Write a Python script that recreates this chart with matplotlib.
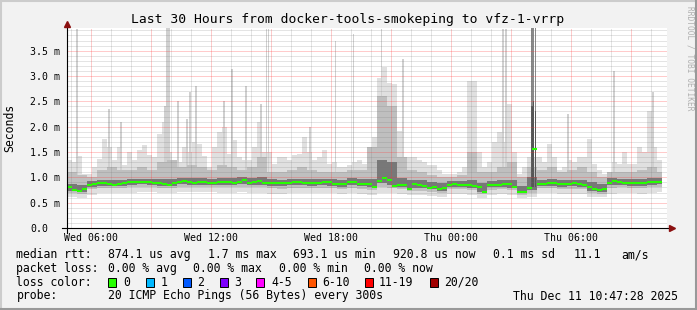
import numpy as np
import matplotlib
matplotlib.use('Agg')
import matplotlib.pyplot as plt
from matplotlib.patches import Rectangle
from matplotlib.lines import Line2D

W, H = 697, 310
MONO = 'DejaVu Sans Mono'

# ---- time axis: hours since Wed 00:00 (window Wed 04:48 -> Thu 10:48) ----
t_start, t_end = 4.8, 34.8
step_h = 0.25  # 15-minute columns

# median RTT (ms), one value per 15-minute column
median_ms = [0.81, 0.75, 0.74, 0.76, 0.84, 0.86, 0.88, 0.88, 0.87, 0.85,
             0.87, 0.88, 0.90, 0.91, 0.91, 0.90, 0.90, 0.89, 0.88, 0.87,
             0.85, 0.88, 0.90, 0.92, 0.91, 0.88, 0.90, 0.90, 0.89, 0.89,
             0.90, 0.91, 0.90, 0.89, 0.90, 0.94, 0.89, 0.91, 0.92, 0.89,
             0.89, 0.88, 0.88, 0.88, 0.88, 0.90, 0.90, 0.88, 0.88, 0.89,
             0.89, 0.90, 0.90, 0.87, 0.87, 0.86, 0.90, 0.91, 0.87, 0.86,
             0.86, 0.81, 0.93, 0.98, 0.94, 0.82, 0.85, 0.84, 0.77, 0.86,
             0.84, 0.82, 0.79, 0.80, 0.76, 0.78, 0.85, 0.86, 0.85, 0.85,
             0.84, 0.83, 0.80, 0.72, 0.84, 0.85, 0.84, 0.86, 0.86, 0.80,
             0.72, 0.72, 0.78, 1.55, 0.86, 0.86, 0.88, 0.89, 0.86, 0.86,
             0.86, 0.88, 0.87, 0.85, 0.80, 0.76, 0.75, 0.77, 0.88, 0.92,
             0.90, 0.89, 0.88, 0.88, 0.88, 0.89, 0.90, 0.91, 0.91]

# highest ping per 15-minute column (broad smoke envelope)
max_ms = [1.35, 1.30, 1.43, 1.07, 1.07, 1.20, 1.36, 1.75, 1.60, 1.34,
          1.60, 1.25, 1.50, 1.34, 1.53, 1.63, 1.45, 1.40, 1.85, 2.10,
          1.50, 1.14, 1.30, 1.60, 1.50, 1.70, 1.66, 1.43, 1.20, 1.60,
          1.90, 2.00, 1.47, 1.73, 1.40, 1.35, 1.34, 1.60, 2.10, 1.50,
          1.50, 1.27, 1.40, 1.40, 1.34, 1.45, 1.47, 1.79, 1.50, 1.34,
          1.40, 1.53, 1.27, 1.30, 1.20, 1.20, 1.25, 1.30, 1.34, 1.27,
          1.35, 1.80, 2.97, 3.17, 2.87, 2.84, 1.92, 1.40, 1.40, 1.40,
          1.35, 1.30, 1.25, 1.25, 1.15, 1.07, 1.07, 1.07, 1.10, 1.20,
          2.90, 2.90, 1.50, 1.20, 1.30, 1.70, 1.90, 1.70, 2.45, 1.50,
          1.07, 1.20, 1.40, 1.40, 1.40, 1.30, 1.66, 1.40, 1.15, 1.20,
          1.35, 1.30, 1.40, 1.40, 1.76, 1.27, 1.15, 1.07, 1.10, 1.30,
          1.27, 1.50, 1.27, 1.27, 1.60, 1.50, 2.30, 1.60, 1.35]

# smoke band edges per 30-minute block (ms)
min_ms = [0.62, 0.60, 0.66, 0.70, 0.70, 0.70, 0.70, 0.72, 0.72, 0.70,
          0.70, 0.72, 0.72, 0.72, 0.72, 0.70, 0.70, 0.72, 0.70, 0.70,
          0.68, 0.68, 0.70, 0.70, 0.70, 0.70, 0.70, 0.68, 0.70, 0.68,
          0.66, 0.70, 0.70, 0.68, 0.66, 0.66, 0.64, 0.62, 0.68, 0.68,
          0.66, 0.60, 0.66, 0.68, 0.66, 0.60, 0.62, 0.70, 0.70, 0.68,
          0.68, 0.68, 0.62, 0.62, 0.68, 0.70, 0.70, 0.68, 0.70, 0.72]
lo_ms = [0.70, 0.68, 0.76, 0.78, 0.78, 0.78, 0.80, 0.80, 0.80, 0.78,
         0.78, 0.80, 0.80, 0.80, 0.80, 0.80, 0.80, 0.80, 0.80, 0.80,
         0.78, 0.77, 0.78, 0.78, 0.78, 0.78, 0.78, 0.76, 0.78, 0.77,
         0.75, 0.80, 0.78, 0.76, 0.74, 0.74, 0.72, 0.70, 0.76, 0.76,
         0.75, 0.68, 0.75, 0.76, 0.75, 0.66, 0.70, 0.78, 0.78, 0.76,
         0.77, 0.76, 0.70, 0.68, 0.78, 0.80, 0.78, 0.78, 0.80, 0.80]
dlo_ms = [0.74, 0.72, 0.80, 0.83, 0.82, 0.83, 0.85, 0.86, 0.85, 0.83,
          0.82, 0.86, 0.85, 0.85, 0.85, 0.85, 0.85, 0.86, 0.85, 0.85,
          0.83, 0.83, 0.84, 0.84, 0.83, 0.85, 0.83, 0.81, 0.85, 0.82,
          0.80, 0.88, 0.84, 0.80, 0.78, 0.78, 0.76, 0.74, 0.80, 0.80,
          0.79, 0.72, 0.80, 0.80, 0.79, 0.69, 0.75, 0.82, 0.83, 0.81,
          0.82, 0.81, 0.74, 0.72, 0.84, 0.85, 0.83, 0.83, 0.85, 0.86]
dhi_ms = [0.86, 0.84, 0.92, 0.95, 0.95, 0.95, 0.97, 0.97, 0.97, 0.96,
          0.97, 0.98, 0.98, 0.98, 0.97, 0.98, 0.98, 1.00, 0.98, 1.00,
          0.96, 0.95, 0.96, 0.97, 0.96, 0.97, 0.96, 0.95, 0.98, 0.96,
          0.97, 1.35, 1.30, 0.98, 0.94, 0.94, 0.90, 0.88, 0.93, 0.93,
          0.95, 0.88, 0.93, 0.95, 0.95, 0.82, 1.00, 0.95, 0.96, 0.95,
          0.95, 0.95, 0.90, 0.87, 0.98, 0.97, 0.96, 0.96, 0.98, 0.98]
hi_ms = [1.10, 1.05, 1.00, 1.15, 1.20, 1.15, 1.15, 1.20, 1.15, 1.30,
         1.35, 1.20, 1.25, 1.20, 1.15, 1.25, 1.20, 1.15, 1.20, 1.40,
         1.10, 1.10, 1.15, 1.20, 1.15, 1.10, 1.10, 1.10, 1.15, 1.15,
         1.60, 2.60, 2.40, 1.40, 1.15, 1.10, 1.05, 1.00, 1.00, 1.05,
         1.50, 1.10, 1.10, 1.20, 1.30, 1.00, 1.20, 1.15, 1.20, 1.10,
         1.15, 1.20, 1.10, 1.00, 1.10, 1.10, 1.10, 1.15, 1.20, 1.10]

# narrow single-ping spikes (hour, top in ms)
spike_hour = [5.30, 6.90, 7.50, 9.70, 9.80, 9.90, 10.35, 10.80, 10.95, 11.25,
              12.65, 13.05, 13.75, 14.50, 14.78, 14.88, 16.95, 18.23, 19.13,
              20.53, 21.60, 26.60, 26.75, 29.85, 32.15, 34.10]
spike_ms = [3.92, 2.35, 2.09, 2.40, 3.95, 3.95, 2.50, 2.15, 2.68, 2.81,
            2.50, 3.14, 2.81, 2.45, 3.92, 3.92, 2.00, 3.70, 3.82,
            3.92, 3.33, 3.92, 3.92, 2.25, 3.10, 2.68]

# the large dark burst on Thursday morning
burst_hour = [28.05, 28.13, 28.22]
burst_top_ms = [3.95, 3.95, 3.95]
burst_core_ms = [2.40, 2.50, 2.30]

xtick_hours = [6, 12, 18, 24, 30]
xtick_labels = ['Wed 06:00', 'Wed 12:00', 'Wed 18:00', 'Thu 00:00', 'Thu 06:00']
ytick_vals = [0.0, 0.5, 1.0, 1.5, 2.0, 2.5, 3.0, 3.5]
ytick_labels = ['0.0', '0.5 m', '1.0 m', '1.5 m', '2.0 m', '2.5 m', '3.0 m', '3.5 m']

loss_labels = ['0', '1', '2', '3', '4-5', '6-10', '11-19', '20/20']
loss_colors = ['#26ff00', '#00b8ff', '#0059ff', '#7e00ff', '#ff00ff',
               '#ff5500', '#ff0000', '#a10000']

# ----------------------------------------------------------------------
fig = plt.figure(figsize=(W / 100, H / 100), dpi=100, facecolor='#f2f2f2')
ax = fig.add_axes([67 / W, (H - 228) / H, 600 / W, 200 / H])
ax.set_facecolor('white')
ax.set_xlim(t_start, t_end)
ax.set_ylim(0, 3.948)
for s in ax.spines.values():
    s.set_visible(False)

n = len(median_ms)
edges = t_start + step_h * np.arange(n + 1)


def stepy(a):
    a = np.asarray(a, dtype=float)
    return np.append(a, a[-1])


def expand(a):
    return np.repeat(np.asarray(a, dtype=float), 2)[:n]


med = np.asarray(median_ms)
mn, lo, dlo, dhi, hi = (expand(a) for a in (min_ms, lo_ms, dlo_ms, dhi_ms, hi_ms))
mx = np.maximum(np.asarray(max_ms), hi)

ax.fill_between(edges, stepy(mn), stepy(mx), step='post', color='#e0e0e0', lw=0, zorder=1)
ax.bar(spike_hour, np.asarray(spike_ms) - 0.9, bottom=0.9, width=1 / 12,
       color='#d0d0d0', lw=0, zorder=1.5)
ax.fill_between(edges, stepy(lo), stepy(hi), step='post', color='#bfbfbf', lw=0, zorder=2)
ax.fill_between(edges, stepy(dlo), stepy(dhi), step='post', color='#787878', lw=0, zorder=3)
ax.bar(burst_hour, np.asarray(burst_top_ms) - 0.8, bottom=0.8, width=1 / 12,
       color='#8a8a8a', lw=0, zorder=3.2)
ax.bar(burst_hour, np.asarray(burst_core_ms) - 0.8, bottom=0.8, width=1 / 12,
       color='#555555', lw=0, zorder=3.3)

# grid (semi-transparent, drawn over the smoke as rrdtool does)
minor_c = (0.45, 0.45, 0.45, 0.38)
major_c = (1.0, 0.2, 0.2, 0.5)
for h in np.arange(5, 35):
    ax.axvline(h, color=major_c if h % 3 == 0 else minor_c, lw=0.72,
               ls=(0, (1, 1)), zorder=4)
for k in range(1, 40):
    ax.axhline(k / 10, color=major_c if k % 5 == 0 else minor_c, lw=0.72,
               ls=(0, (1, 1)), zorder=4)

# median, coloured by loss (0 loss -> green)
ax.hlines(med, edges[:-1], edges[1:], colors=loss_colors[0], lw=1.5, zorder=5)

# axes with arrows
ax.add_line(Line2D([0, 0], [-0.025, 1.015], transform=ax.transAxes, color='black',
                   lw=0.8, clip_on=False, zorder=6))
ax.add_line(Line2D([-0.008, 1.005], [0, 0], transform=ax.transAxes, color='black',
                   lw=0.8, clip_on=False, zorder=6))
ax.plot([0], [1.02], marker='^', ms=4.5, color='#8b1010', transform=ax.transAxes,
        clip_on=False, zorder=7)
ax.plot([1.008], [0], marker='>', ms=4.5, color='#8b1010', transform=ax.transAxes,
        clip_on=False, zorder=7)

ax.set_xticks(xtick_hours)
ax.set_xticklabels(xtick_labels, fontsize=7.1, family=MONO)
ax.set_yticks(ytick_vals)
ax.set_yticklabels(ytick_labels, fontsize=7.1, family=MONO)
ax.tick_params(axis='x', length=0, pad=3.5)
ax.tick_params(axis='y', length=0, pad=26.6)
for lab in ax.get_yticklabels():
    lab.set_horizontalalignment('left')


def ft(x, y, s, **kw):
    kw.setdefault('family', MONO)
    kw.setdefault('fontsize', 8.3)
    kw.setdefault('va', 'center')
    kw.setdefault('ha', 'left')
    fig.text(x / W, 1 - y / H, s, **kw)


ft(348, 19, 'Last 30 Hours from docker-tools-smokeping to vfz-1-vrrp',
   fontsize=9.4, ha='center')
ft(10, 128, 'Seconds', rotation=90, ha='center')
ft(690, 58, 'RRDTOOL / TOBI OETIKER', rotation=270, ha='center', fontsize=5.7,
   color='#b0b0b0')

row1 = [(16.4, 'median rtt:'), (107.6, '874.1 us avg'), (207.6, '1.7 ms max'),
        (293.3, '693.1 us min'), (393.3, '920.8 us now'), (493.3, '0.1 ms sd'),
        (573.3, '11.1'), (621.3, 'am/s')]
for x, s in row1:
    ft(x, 254.7, s)
row2 = [(16.4, 'packet loss:'), (107.6, '0.00 % avg'), (193.3, '0.00 % max'),
        (279.0, '0.00 % min'), (364.4, '0.00 % now')]
for x, s in row2:
    ft(x, 268.3, s)
ft(16.4, 282.3, 'loss color:')
box_x = [108.4, 145.8, 182.7, 219.6, 256.4, 308.0, 365.3, 430.2]
lab_x = [123.6, 160.9, 196.9, 234.2, 271.1, 322.7, 379.1, 444.4]
for bx, lx, lab, col in zip(box_x, lab_x, loss_labels, loss_colors):
    fig.add_artist(Rectangle((bx / W, 1 - 286.7 / H), 8 / W, 9 / H,
                             transform=fig.transFigure, facecolor=col,
                             edgecolor='black', lw=0.7))
    ft(lx, 282.3, lab)
ft(16.4, 296, 'probe:')
ft(107.6, 296, '20 ICMP Echo Pings (56 Bytes) every 300s')
ft(513.3, 296, 'Thu Dec 11 10:47:28 2025')

# 3D frame of the rrdtool canvas
fig.add_artist(Line2D([0, 1], [1 - 1 / H, 1 - 1 / H], transform=fig.transFigure,
                      color='#cccccc', lw=1.5))
fig.add_artist(Line2D([1 / W, 1 / W], [0, 1], transform=fig.transFigure,
                      color='#cccccc', lw=1.5))
fig.add_artist(Line2D([0, 1], [1 / H, 1 / H], transform=fig.transFigure,
                      color='#999999', lw=1.5))
fig.add_artist(Line2D([1 - 1 / W, 1 - 1 / W], [0, 1], transform=fig.transFigure,
                      color='#999999', lw=1.5))

fig.savefig('out.png', dpi=100, facecolor=fig.get_facecolor())
